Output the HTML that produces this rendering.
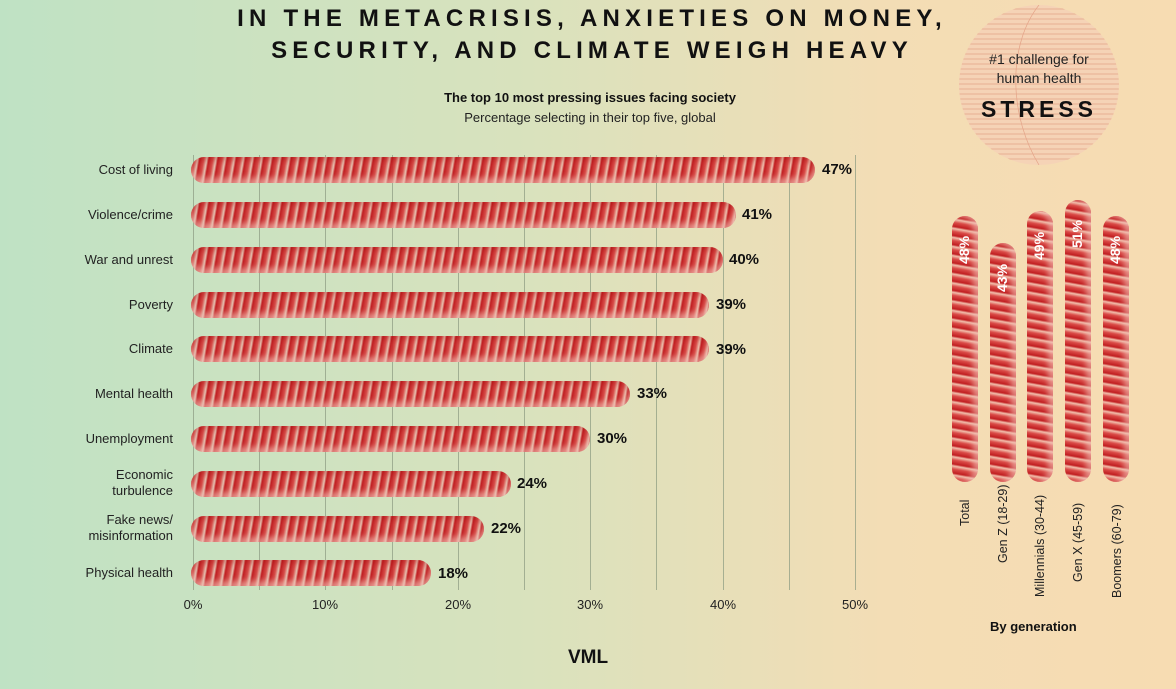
<!DOCTYPE html>
<html><head><meta charset="utf-8"><style>
body{margin:0;width:1176px;height:689px;overflow:hidden;font-family:"Liberation Sans",sans-serif;background:linear-gradient(90deg,#bfe2c4 0%,#d9e2bd 45%,#f3ddb5 75%,#f7dcb2 100%);position:relative}
.a{position:absolute}
.t{left:0;width:1184px;top:3px;text-align:center;font-weight:bold;font-size:24px;letter-spacing:5.2px;line-height:32px;color:#111}
.bar{position:absolute;height:26px;border-radius:13px;background:repeating-linear-gradient(100deg,rgba(190,20,25,.95) 0px,rgba(215,60,60,.9) 4px,rgba(240,180,170,.7) 7px,rgba(190,20,25,.95) 9px);box-shadow:inset 0 -5px 6px rgba(240,190,180,.6),inset 0 4px 4px rgba(150,0,0,.2)}
.vb{position:absolute;width:26px;border-radius:13px;background:repeating-linear-gradient(10deg,rgba(190,20,25,.95) 0px,rgba(215,60,60,.9) 4px,rgba(240,180,170,.7) 7px,rgba(190,20,25,.95) 9px);box-shadow:inset -5px 0 6px rgba(240,190,180,.6)}
.lab{position:absolute;right:1003px;font-size:13px;color:#222;text-align:right;line-height:16px}
.val{position:absolute;font-weight:bold;font-size:15px;color:#111}
.g{position:absolute;top:155px;width:1px;height:435px;background:#8a9a80;opacity:.7}
.tick{position:absolute;top:597px;font-size:13px;color:#222;transform:translateX(-50%)}
.vl{position:absolute;color:#fff;font-weight:bold;font-size:14px;transform:rotate(-90deg);transform-origin:left top}
.gl{position:absolute;font-size:12.5px;color:#222;transform:rotate(-90deg);transform-origin:left top;white-space:nowrap}
</style></head><body>
<div class="a t">IN THE METACRISIS, ANXIETIES ON MONEY,<br>SECURITY, AND CLIMATE WEIGH HEAVY</div>
<div class="a" style="left:380px;top:90px;width:420px;text-align:center;font-weight:bold;font-size:13px;color:#111">The top 10 most pressing issues facing society</div>
<div class="a" style="left:380px;top:110px;width:420px;text-align:center;font-size:13px;color:#222">Percentage selecting in their top five, global</div>

<div class="g" style="left:193px"></div><div class="g" style="left:259px"></div><div class="g" style="left:325px"></div><div class="g" style="left:392px"></div><div class="g" style="left:458px"></div><div class="g" style="left:524px"></div><div class="g" style="left:590px"></div><div class="g" style="left:656px"></div><div class="g" style="left:723px"></div><div class="g" style="left:789px"></div><div class="g" style="left:855px"></div>

<div class="bar" style="left:191px;top:157px;width:624px"></div><div class="lab" style="top:162px">Cost of living</div><div class="val" style="left:822px;top:161px">47%</div>
<div class="bar" style="left:191px;top:202px;width:545px"></div><div class="lab" style="top:207px">Violence/crime</div><div class="val" style="left:742px;top:206px">41%</div>
<div class="bar" style="left:191px;top:247px;width:532px"></div><div class="lab" style="top:252px">War and unrest</div><div class="val" style="left:729px;top:251px">40%</div>
<div class="bar" style="left:191px;top:292px;width:518px"></div><div class="lab" style="top:297px">Poverty</div><div class="val" style="left:716px;top:296px">39%</div>
<div class="bar" style="left:191px;top:336px;width:518px"></div><div class="lab" style="top:341px">Climate</div><div class="val" style="left:716px;top:341px">39%</div>
<div class="bar" style="left:191px;top:381px;width:439px"></div><div class="lab" style="top:386px">Mental health</div><div class="val" style="left:637px;top:385px">33%</div>
<div class="bar" style="left:191px;top:426px;width:399px"></div><div class="lab" style="top:431px">Unemployment</div><div class="val" style="left:597px;top:430px">30%</div>
<div class="bar" style="left:191px;top:471px;width:320px"></div><div class="lab" style="top:467px">Economic<br>turbulence</div><div class="val" style="left:517px;top:475px">24%</div>
<div class="bar" style="left:191px;top:516px;width:293px"></div><div class="lab" style="top:512px">Fake news/<br>misinformation</div><div class="val" style="left:491px;top:520px">22%</div>
<div class="bar" style="left:191px;top:560px;width:240px"></div><div class="lab" style="top:565px">Physical health</div><div class="val" style="left:438px;top:565px">18%</div>

<div class="tick" style="left:193px">0%</div><div class="tick" style="left:325px">10%</div><div class="tick" style="left:458px">20%</div><div class="tick" style="left:590px">30%</div><div class="tick" style="left:723px">40%</div><div class="tick" style="left:855px">50%</div>
<div class="a" style="left:568px;top:647px;font-weight:bold;font-size:19px;color:#111">VML</div>

<svg class="a" style="left:958px;top:4px" width="162" height="162"><defs><clipPath id="c"><circle cx="81" cy="81" r="80"/></clipPath></defs><circle cx="81" cy="81" r="80" fill="#f5d3b6"/><g clip-path="url(#c)" stroke="#e4a488" stroke-width="0.7"><path d="M0 5H162M0 10H162M0 15H162M0 20H162M0 25H162M0 30H162M0 35H162M0 40H162M0 45H162M0 50H162M0 55H162M0 60H162M0 65H162M0 70H162M0 75H162M0 80H162M0 85H162M0 90H162M0 95H162M0 100H162M0 105H162M0 110H162M0 115H162M0 120H162M0 125H162M0 130H162M0 135H162M0 140H162M0 145H162M0 150H162M0 155H162"/><path d="M81 1C50 40 50 110 81 161" fill="none"/></g></svg>
<div class="a" style="left:958px;top:50px;width:162px;text-align:center;font-size:14px;line-height:19px;color:#222">#1 challenge for<br>human health</div>
<div class="a" style="left:958px;top:96px;width:162px;text-align:center;font-size:23px;font-weight:bold;letter-spacing:4px;color:#111">STRESS</div>

<div class="vb" style="left:952px;top:216px;height:266px"></div><div class="vl" style="left:956px;top:264px">48%</div>
<div class="vb" style="left:990px;top:243px;height:239px"></div><div class="vl" style="left:994px;top:292px">43%</div>
<div class="vb" style="left:1027px;top:211px;height:271px"></div><div class="vl" style="left:1031px;top:260px">49%</div>
<div class="vb" style="left:1065px;top:200px;height:282px"></div><div class="vl" style="left:1069px;top:248px">51%</div>
<div class="vb" style="left:1103px;top:216px;height:266px"></div><div class="vl" style="left:1107px;top:264px">48%</div>
<div class="gl" style="left:958px;top:526px">Total</div>
<div class="gl" style="left:996px;top:563px">Gen Z (18-29)</div>
<div class="gl" style="left:1033px;top:597px">Millennials (30-44)</div>
<div class="gl" style="left:1071px;top:582px">Gen X (45-59)</div>
<div class="gl" style="left:1110px;top:598px">Boomers (60-79)</div>
<div class="a" style="left:990px;top:619px;font-weight:bold;font-size:13px;color:#111">By generation</div>
</body></html>
